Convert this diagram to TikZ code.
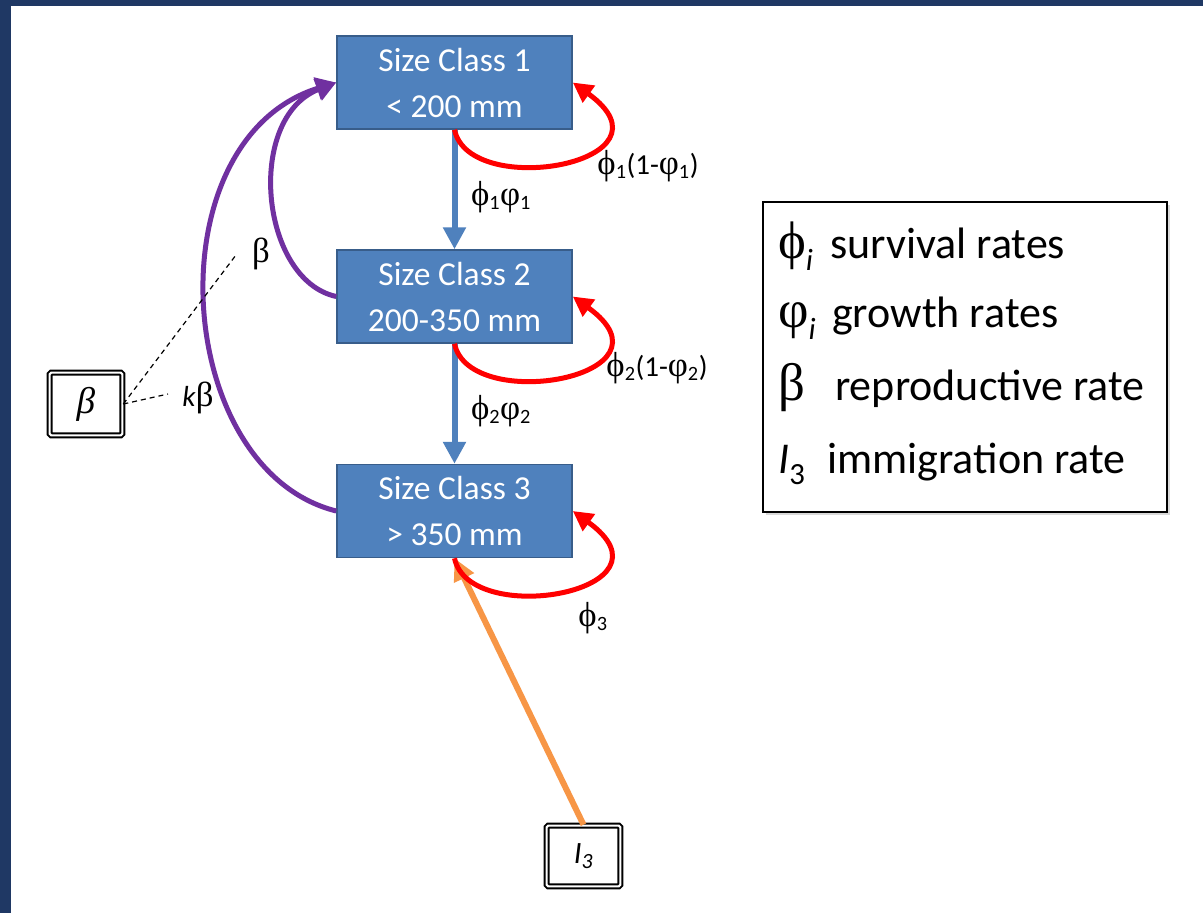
\documentclass[tikz,border=0pt]{standalone}
\usepackage{fontspec}
\setmainfont{Carlito}
\newfontfamily\grk[Scale=1.2]{Liberation Serif}
\usetikzlibrary{arrows.meta}
\definecolor{navy}{RGB}{31,56,100}
\definecolor{boxblue}{RGB}{79,129,189}
\definecolor{boxedge}{RGB}{56,93,138}
\definecolor{loopred}{RGB}{255,0,0}
\definecolor{purp}{RGB}{112,48,160}
\definecolor{orng}{RGB}{247,150,70}
\newcommand\sph{{\grk ϕ}}
\newcommand\lph{{\grk φ}}
\newcommand\bet{{\grk β}}
\begin{document}
\begin{tikzpicture}[x=1pt,y=-1pt,
  sizebox/.style={draw=boxedge, line width=1.5pt, fill=boxblue, text=white,
    minimum width=235pt, minimum height=93pt, inner sep=0pt, align=center,
    font=\fontsize{33.5}{46}\selectfont},
  lbl/.style={inner sep=0pt, font=\fontsize{29}{32}\selectfont},
  legtxt/.style={anchor=base west, inner sep=0pt, font=\fontsize{44}{50}\selectfont},
  dbox/.style={draw, double, line width=2pt, double distance=2pt, rounded corners=1.5pt, inner sep=0pt},
  downarrow/.style={line width=6pt, boxblue, -{Triangle[length=22pt,width=22pt]}},
  selfloop/.style={line width=5pt, loopred, -{Triangle[length=20pt,width=20pt]}},
  reprod/.style={line width=5pt, purp, -{Triangle[length=20pt,width=22pt]}},
  immig/.style={line width=6pt, orng, -{Triangle[length=22pt,width=21pt]}},
  dashline/.style={line width=1.2pt, dash pattern=on 5pt off 4pt}
]
\useasboundingbox (0,0) rectangle (1203,913);
\fill[white] (0,0) rectangle (1203,913);
\fill[navy] (0,0) rectangle (11,913);
\fill[navy] (0,0) rectangle (1203,6);

% size class boxes
\node[sizebox] (b1) at (454.5,82.5) {Size Class 1\\< 200 mm};
\node[sizebox] (b2) at (454.5,296.5) {Size Class 2\\200-350 mm};
\node[sizebox] (b3) at (454.5,511) {Size Class 3\\> 350 mm};

% parameter boxes
\node[dbox, minimum width=72.6pt, minimum height=62.6pt, font=\fontsize{31}{36}\selectfont] (bb) at (86,404) {\grk\itshape β};
\node[dbox, minimum width=73.6pt, minimum height=60.6pt, font=\fontsize{31}{36}\selectfont] (ib) at (583.5,856) {\textit{I}\textsubscript{\itshape 3}};

% growth arrows
\draw[downarrow] (b1.south) -- (b2.north);
\draw[downarrow] (b2.south) -- (b3.north);

% immigration
\draw[immig] (ib.north) -- (b3.south);

% self loops
\draw[selfloop] (b1.south) .. controls +(15,71) and +(111,80) .. (b1.east);
\draw[selfloop] (b2.south) .. controls +(15,71) and +(111,80) .. (b2.east);
\draw[selfloop] (b3.south) .. controls +(15,71) and +(111,80) .. (b3.east);

% reproduction
\draw[reprod] (b2.west) .. controls (260,280) and (245,118) .. (b1.west);
\draw[reprod] (b3.west) .. controls (172,470) and (152,140) .. (b1.west);

% labels
\node[lbl] (l11) at (501,197) {\sph\textsubscript{1}\lph\textsubscript{1}};
\node[lbl] (l12) at (648,166) {\sph\textsubscript{1}(1-\lph\textsubscript{1})};
\node[lbl] (l22) at (657,368) {\sph\textsubscript{2}(1-\lph\textsubscript{2})};
\node[lbl] (l21) at (501,411) {\sph\textsubscript{2}\lph\textsubscript{2}};
\node[lbl] (l33) at (593,618) {\sph\textsubscript{3}};
\node[lbl] (lb) at (261,254) {\bet};
\node[lbl] (lkb) at (198,398) {\textit{k}\bet};

% dashed pointers
\coordinate (dA) at (236,255);
\coordinate (dB) at (168,394);
\draw[dashline] (bb.east) -- (dA);
\draw[dashline] (bb.east) -- (dB);

% legend
\fill[black!15] (766,205) rectangle (1170,515);
\node[draw, fill=white, line width=1.5pt, minimum width=404pt, minimum height=310pt, inner sep=0pt] (legend) at (965,357) {};
\node[legtxt] (lg1) at (778,258) {\makebox[52pt][l]{\sph\textsubscript{\itshape i}}survival rates};
\node[legtxt] (lg2) at (778,327) {\makebox[54pt][l]{\lph\textsubscript{\itshape i}}growth rates};
\node[legtxt] (lg3) at (778,400) {\makebox[57pt][l]{\bet}reproductive rate};
\node[legtxt] (lg4) at (778,473) {\makebox[49pt][l]{\textit{I}\textsubscript{3}}immigration rate};
\end{tikzpicture}
\end{document}
